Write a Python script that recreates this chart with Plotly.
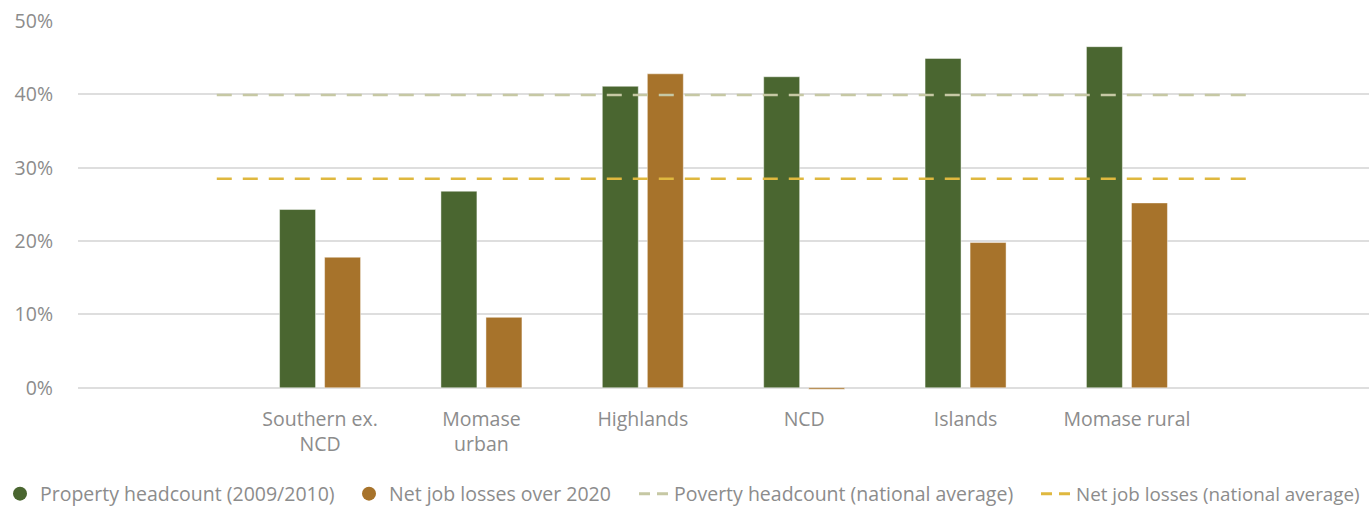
import plotly.graph_objects as go

# Regional values (share of population / workforce)
regions = ["Southern ex.<br>NCD", "Momase<br>urban", "Highlands", "NCD", "Islands", "Momase rural"]
poverty_headcount = [0.243, 0.268, 0.411, 0.424, 0.449, 0.465]
net_job_losses = [0.178, 0.096, 0.428, -0.002, 0.198, 0.252]

# National averages, drawn as flat dashed reference lines
poverty_national = 0.399
job_losses_national = 0.285
avg_span = [-0.64, 5.74]

y_ticks = [0, 0.1, 0.2, 0.3, 0.4, 0.5]
y_tick_labels = ["0%", "10%", "20%", "30%", "40%", "50%"]

legend_names = [
    "Property headcount (2009/2010)",
    "Net job losses over 2020",
    "Poverty headcount (national average)",
    "Net job losses (national average)",
]

GREEN = "#4a6630"
ORANGE = "#a7732b"
POV_LINE = "#c6c8a4"
JOB_LINE = "#dfb83f"
TEXT = "#8c8c8c"
FONT = "Open Sans"
FS = 19.5

x_pos = list(range(len(regions)))

fig = go.Figure()

fig.add_trace(go.Bar(
    x=x_pos, y=poverty_headcount, width=0.223, offset=-0.251,
    marker=dict(color=GREEN, line=dict(color="rgba(255,255,255,0.45)", width=1)),
    showlegend=False, hoverinfo="y",
))
fig.add_trace(go.Bar(
    x=x_pos, y=net_job_losses, width=0.223, offset=0.028,
    marker=dict(color=ORANGE, line=dict(color="rgba(255,255,255,0.45)", width=1)),
    showlegend=False, hoverinfo="y",
))

fig.add_trace(go.Scatter(
    x=avg_span, y=[poverty_national] * 2, mode="lines",
    line=dict(color=POV_LINE, width=2.5, dash="15px,11px"),
    showlegend=False, hoverinfo="skip",
))
fig.add_trace(go.Scatter(
    x=avg_span, y=[job_losses_national] * 2, mode="lines",
    line=dict(color=JOB_LINE, width=2.5, dash="15px,11px"),
    showlegend=False, hoverinfo="skip",
))

# Legend entries, one small legend each so they can sit at fixed spots
fig.add_trace(go.Scatter(x=[None], y=[None], mode="markers", name=legend_names[0], legend="legend",
                         marker=dict(color=GREEN, size=14, symbol="circle")))
fig.add_trace(go.Scatter(x=[None], y=[None], mode="markers", name=legend_names[1], legend="legend2",
                         marker=dict(color=ORANGE, size=14, symbol="circle")))
fig.add_trace(go.Scatter(x=[None], y=[None], mode="lines", name=legend_names[2], legend="legend3",
                         line=dict(color=POV_LINE, width=3, dash="11px,7px")))
fig.add_trace(go.Scatter(x=[None], y=[None], mode="lines", name=legend_names[3], legend="legend4",
                         line=dict(color=JOB_LINE, width=3, dash="11px,7px")))


def legend_at(left_px, size=FS):
    return dict(orientation="h", xref="container", yref="container",
                x=left_px / 1371, xanchor="left", y=12 / 506, yanchor="middle",
                font=dict(size=size, color=TEXT, family=FONT), bgcolor="rgba(0,0,0,0)")


fig.update_layout(
    width=1371, height=506,
    margin=dict(l=78, r=2, t=21, b=116, autoexpand=False),
    plot_bgcolor="white", paper_bgcolor="white",
    font=dict(family=FONT, size=FS, color=TEXT),
    barmode="overlay",
    legend=legend_at(-1),
    legend2=legend_at(349),
    legend3=legend_at(634),
    legend4=legend_at(1036, 18.8),
)
fig.update_xaxes(
    range=[-1.5, 6.5], tickmode="array", tickvals=x_pos, ticktext=regions,
    showgrid=False, zeroline=False, showline=False, ticks="",
    ticklabelstandoff=15, tickfont=dict(size=FS, color=TEXT),
)
fig.update_yaxes(
    range=[-0.003, 0.5], tickmode="array", tickvals=y_ticks, ticktext=y_tick_labels,
    showgrid=True, gridcolor="#dedede", gridwidth=2, zeroline=False, showline=False,
    ticks="", ticklabelstandoff=24, tickfont=dict(size=FS, color=TEXT),
)

fig.write_html("out.html")
